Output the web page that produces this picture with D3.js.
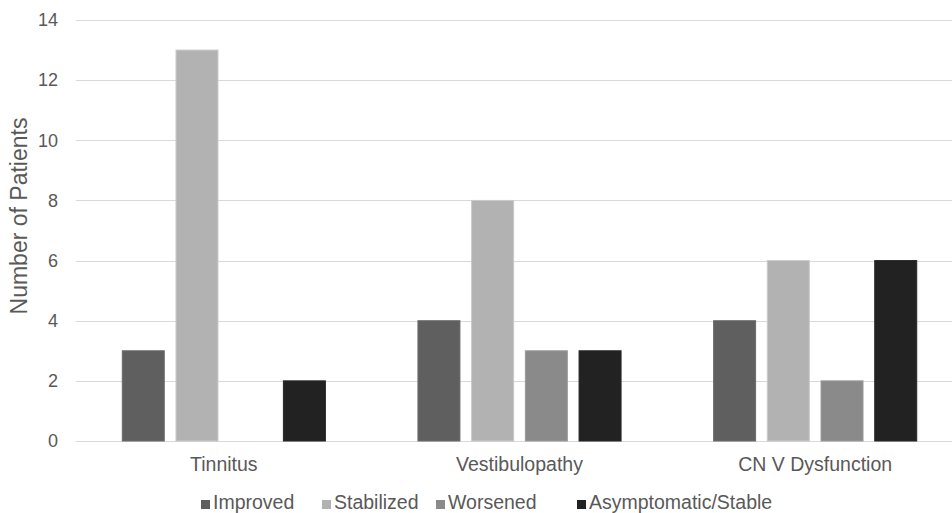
<!DOCTYPE html>
<html><head><meta charset="utf-8">
<script src="https://cdn.jsdelivr.net/npm/d3@7"></script>
<style>html,body{margin:0;padding:0;background:#fff;overflow:hidden}</style>
</head><body>
<svg id="chart" width="952" height="513"></svg>
<script>
const categories = ["Tinnitus", "Vestibulopathy", "CN V Dysfunction"];
const seriesNames = ["Improved", "Stabilized", "Worsened", "Asymptomatic/Stable"];
const improved = [3, 4, 4];
const stabilized = [13, 8, 6];
const worsened = [0, 3, 2];
const asymptomatic = [2, 3, 6];
const yTicks = [0, 2, 4, 6, 8, 10, 12, 14];
const colors = ["#5f5f5f", "#b2b2b2", "#8a8a8a", "#222222"];

const seriesValues = [improved, stabilized, worsened, asymptomatic];
const svg = d3.select("#chart");
const font = "'Liberation Sans', Arial, sans-serif";
const textColor = "#595959";

const x0 = d3.scaleBand().domain(categories).range([76, 963]).paddingInner(0.313).paddingOuter(0.1565);
const x1 = d3.scaleBand().domain(seriesNames).range([0, x0.bandwidth()]).paddingInner(0.218).paddingOuter(0);
const y = d3.scaleLinear().domain([0, 14]).range([441, 20]);

// gridlines
svg.append("g").selectAll("line").data(yTicks).join("line")
  .attr("x1", 76).attr("x2", 952)
  .attr("y1", d => Math.round(y(d)) + 0.5).attr("y2", d => Math.round(y(d)) + 0.5)
  .attr("stroke", "#d9d9d9").attr("stroke-width", 1.2);

// y tick labels
svg.append("g").selectAll("text").data(yTicks).join("text")
  .attr("x", 58).attr("y", d => y(d)).attr("dy", "0.35em")
  .attr("text-anchor", "end").attr("font-family", font).attr("font-size", 18)
  .attr("fill", textColor).text(d => d);

// bars
const groups = svg.append("g").selectAll("g").data(categories).join("g")
  .attr("transform", d => `translate(${x0(d)},0)`);
groups.selectAll("rect")
  .data((c, ci) => seriesNames.map((s, si) => ({s, si, v: seriesValues[si][ci]})))
  .join("rect")
  .filter(d => d.v > 0)
  .attr("x", d => x1(d.s)).attr("width", x1.bandwidth())
  .attr("y", d => y(d.v)).attr("height", d => y(0) - y(d.v))
  .attr("fill", d => colors[d.si])
  .attr("stroke", d => d3.color(colors[d.si]).brighter(0.35))
  .attr("stroke-width", 1);

// category labels
svg.append("g").selectAll("text").data(categories).join("text")
  .attr("x", d => x0(d) + x0.bandwidth() / 2).attr("y", 471)
  .attr("text-anchor", "middle").attr("font-family", font).attr("font-size", 19.5)
  .attr("fill", textColor).text(d => d);

// y title
svg.append("text")
  .attr("transform", "translate(27,216) rotate(-90)")
  .attr("text-anchor", "middle").attr("font-family", font).attr("font-size", 23)
  .attr("fill", textColor).text("Number of Patients");

// legend
const legendX = [201, 322, 436, 577];
const lg = svg.append("g").selectAll("g").data(seriesNames).join("g")
  .attr("transform", (d, i) => `translate(${legendX[i]},0)`);
lg.append("rect").attr("x", 0).attr("y", 500).attr("width", 9).attr("height", 9)
  .attr("fill", (d, i) => colors[i]);
lg.append("text").attr("x", 12).attr("y", 509)
  .attr("font-family", font).attr("font-size", 19.5).attr("fill", textColor).text(d => d);
</script>
</body></html>
